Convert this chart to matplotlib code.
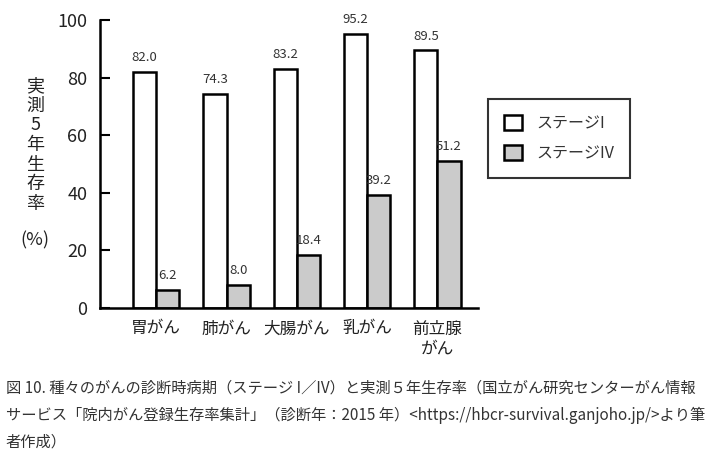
import numpy as np
import matplotlib.pyplot as plt
from matplotlib.patches import Patch

plt.rcParams['font.family'] = ['Noto Sans CJK JP', 'DejaVu Sans']

# データ
部位 = ["胃がん", "肺がん", "大腸がん", "乳がん", "前立腺\nがん"]
stage1 = [82.0, 74.3, 83.2, 95.2, 89.5]
stage4 = [6.2, 8.0, 18.4, 39.2, 51.2]
凡例 = ["ステージI", "ステージIV"]

caption = ("図 10. 種々のがんの診断時病期（ステージ I／IV）と実測５年生存率（国立がん研究センターがん情報\n"
           "サービス「院内がん登録生存率集計」（診断年：2015 年）<https://hbcr-survival.ganjoho.jp/>より筆\n"
           "者作成）")

gris = "#cbcbcb"
w = 0.33
x = np.arange(len(部位))

fig = plt.figure(figsize=(7.07, 4.59), dpi=100)
ax = fig.add_axes([0.1414, 0.329, 0.535, 0.627])

b1 = ax.bar(x - w/2, stage1, w, color="white", edgecolor="black", linewidth=1.8)
b2 = ax.bar(x + w/2, stage4, w, color=gris, edgecolor="black", linewidth=1.8)

for xi, v in zip(x - w/2, stage1):
    ax.text(xi, v + 5, f"{v:.1f}", ha="center", va="center", fontsize=9.5, color="#333333")
for xi, v in zip(x + w/2, stage4):
    ax.text(xi, v + 5, f"{v:.1f}", ha="center", va="center", fontsize=9.5, color="#333333")

ax.set_xlim(-0.80, 4.58)
ax.set_ylim(0, 100)
ax.set_yticks([0, 20, 40, 60, 80, 100])
ax.set_xticks(x)
ax.set_xticklabels(部位, fontsize=12, color="#222222", linespacing=1.25)
ax.tick_params(axis="x", length=0, pad=9)
ax.tick_params(axis="y", direction="in", length=7, width=1.5, pad=9,
               labelsize=13, labelcolor="#222222")
for s in ["top", "right"]:
    ax.spines[s].set_visible(False)
for s in ["left", "bottom"]:
    ax.spines[s].set_linewidth(1.8)

# 縦書きの軸ラベル
fig.text(0.050, 1 - 145/459, "実\n測\n5\n年\n生\n存\n率", ha="center", va="center",
         fontsize=13, color="#222222", linespacing=1.12)
fig.text(0.050, 1 - 240/459, "(%)", ha="center", va="center", fontsize=13, color="#222222")

handles = [Patch(facecolor="white", edgecolor="black", linewidth=1.8),
           Patch(facecolor=gris, edgecolor="black", linewidth=1.8)]
leg = fig.legend(handles, 凡例, loc="center", bbox_to_anchor=(559/707, 1 - 138.5/459),
                 fontsize=11.5, frameon=True, fancybox=False, edgecolor="black",
                 handlelength=1.1, handleheight=1.1, handletextpad=0.9,
                 borderpad=1.0, labelspacing=0.8, borderaxespad=0)
leg.get_frame().set_linewidth(1.5)
for t in leg.get_texts():
    t.set_color("#333333")

fig.text(0.008, 1 - 380/459, caption, ha="left", va="top", fontsize=11,
         color="#333333", linespacing=1.75)

fig.savefig("out.png", dpi=100)
